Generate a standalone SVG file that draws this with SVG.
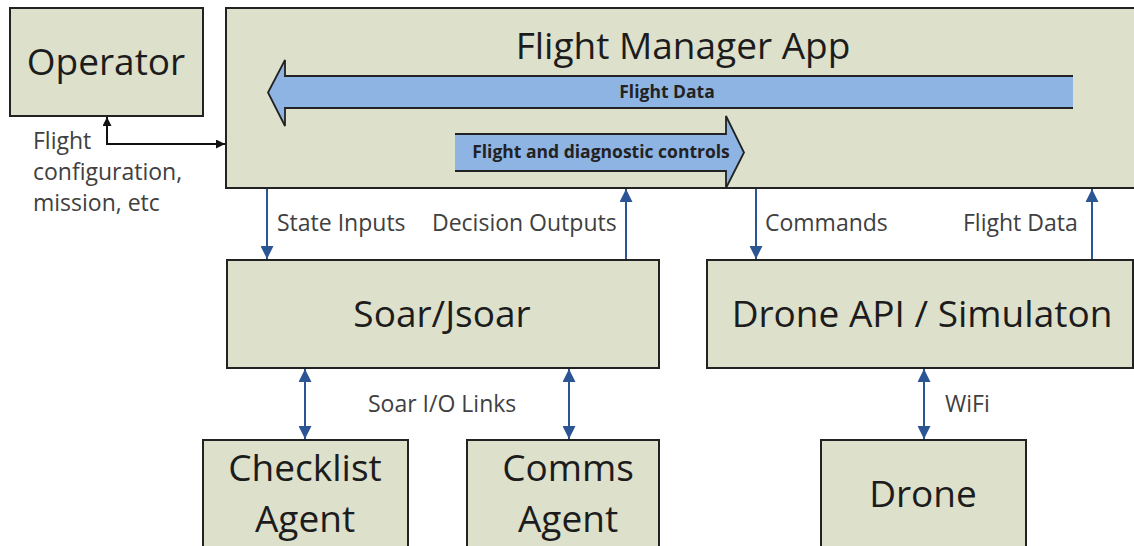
<svg xmlns="http://www.w3.org/2000/svg" width="1134" height="546" viewBox="0 0 1134 546">
<defs>
<style>
.box{fill:#DDE0CA;stroke:#222;stroke-width:2}
.big{font-family:"Open Sans","Liberation Sans",sans-serif;font-size:37px;fill:#1c1c1c;text-anchor:middle}
.lbl{font-family:"Open Sans","Liberation Sans",sans-serif;font-size:23px;fill:#404040}
.blbl{font-family:"Open Sans","Liberation Sans",sans-serif;font-size:17.5px;font-weight:bold;fill:#222;text-anchor:middle}
.conn{stroke:#2C5596;stroke-width:2;fill:none}
.blk{stroke:#111;stroke-width:2;fill:none}
.bfill{fill:#8EB4E3;stroke:none}
.bout{fill:none;stroke:#222;stroke-width:1.8;stroke-linejoin:miter}
</style>
<marker id="ah" viewBox="0 0 10 10" refX="10" refY="5" markerWidth="13" markerHeight="13" markerUnits="userSpaceOnUse" orient="auto-start-reverse">
<path d="M0,0 L10,5 L0,10 z" fill="#2C5596"/>
</marker>
<marker id="ahk" viewBox="0 0 10 10" refX="10" refY="5" markerWidth="9" markerHeight="9" markerUnits="userSpaceOnUse" orient="auto-start-reverse">
<path d="M0,0 L10,5 L0,10 z" fill="#111"/>
</marker>
</defs>
<rect width="1134" height="546" fill="#fff"/>

<g id="operator">
<rect class="box" x="10" y="8" width="193" height="108"/>
<text class="big" x="106" y="75">Operator</text>
</g>

<g id="flight-manager">
<rect class="box" x="226" y="8" width="930" height="180"/>
<text class="big" x="683" y="59">Flight Manager App</text>
<g id="flight-data-arrow">
<polygon class="bfill" points="1073,76 285,76 285,60 268,92.5 285,126 285,108 1073,108"/>
<polyline class="bout" points="1073,76 285,76 285,60 268,92.5 285,126 285,108 1073,108"/>
<text class="blbl" x="667" y="98">Flight Data</text>
</g>
<g id="controls-arrow">
<polygon class="bfill" points="455,134 726,134 726,116 744,152.5 726,188 726,171 455,171"/>
<polyline class="bout" points="455,134 726,134 726,116 744,152.5 726,188 726,171 455,171"/>
<text class="blbl" x="601" y="158">Flight and diagnostic controls</text>
</g>
</g>

<g id="soar">
<rect class="box" x="227" y="260" width="432" height="108"/>
<text class="big" x="442" y="327">Soar/Jsoar</text>
</g>

<g id="drone-api">
<rect class="box" x="707" y="260" width="426" height="108"/>
<text class="big" x="922" y="327">Drone API / Simulaton</text>
</g>

<g id="checklist">
<rect class="box" x="203" y="440" width="205" height="120"/>
<text class="big" x="305" y="481">Checklist</text>
<text class="big" x="305" y="532">Agent</text>
</g>

<g id="comms">
<rect class="box" x="467" y="440" width="192" height="120"/>
<text class="big" x="568" y="481">Comms</text>
<text class="big" x="568" y="532">Agent</text>
</g>

<g id="drone">
<rect class="box" x="821" y="440" width="205" height="120"/>
<text class="big" x="923" y="507">Drone</text>
</g>

<g id="connectors">
<path class="blk" d="M107,117 L107,144 L225,144" marker-start="url(#ahk)" marker-end="url(#ahk)"/>
<line class="conn" x1="267" y1="189" x2="267" y2="259" marker-end="url(#ah)"/>
<line class="conn" x1="626" y1="259" x2="626" y2="189" marker-end="url(#ah)"/>
<line class="conn" x1="756" y1="189" x2="756" y2="259" marker-end="url(#ah)"/>
<line class="conn" x1="1092" y1="259" x2="1092" y2="189" marker-end="url(#ah)"/>
<line class="conn" x1="305" y1="369" x2="305" y2="439" marker-start="url(#ah)" marker-end="url(#ah)"/>
<line class="conn" x1="569" y1="369" x2="569" y2="439" marker-start="url(#ah)" marker-end="url(#ah)"/>
<line class="conn" x1="924" y1="369" x2="924" y2="439" marker-start="url(#ah)" marker-end="url(#ah)"/>
</g>

<g id="labels">
<text class="lbl" x="33" y="149">Flight</text>
<text class="lbl" x="33" y="180">configuration,</text>
<text class="lbl" x="33" y="211">mission, etc</text>
<text class="lbl" x="277" y="231">State Inputs</text>
<text class="lbl" x="432" y="231">Decision Outputs</text>
<text class="lbl" x="765" y="231">Commands</text>
<text class="lbl" x="963" y="231">Flight Data</text>
<text class="lbl" x="368" y="412">Soar I/O Links</text>
<text class="lbl" x="945" y="412">WiFi</text>
</g>
</svg>
